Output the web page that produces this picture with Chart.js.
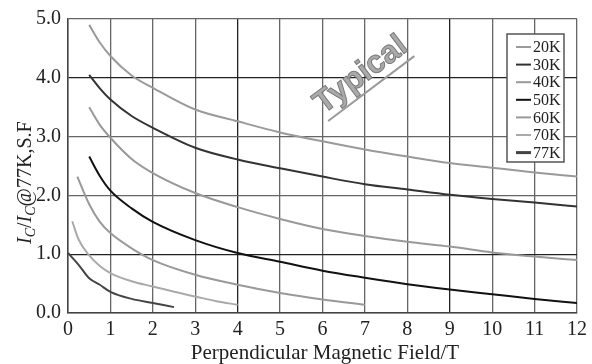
<!DOCTYPE html>
<html>
<head>
<meta charset="utf-8">
<script src="https://cdn.jsdelivr.net/npm/chart.js@4.4.0/dist/chart.umd.min.js"></script>
<style>
  body { margin: 0; background: #fff; }
</style>
</head>
<body>
<canvas id="icChart" width="592" height="364"></canvas>
<script>
// values read off the typical Ic(B) curves, field in T
const fieldLong = [0.5, 0.75, 1, 1.5, 2, 3, 4, 5, 6, 7, 8, 9, 10, 11, 12];
const ic20K = [4.9, 4.6, 4.37, 4.04, 3.83, 3.46, 3.26, 3.07, 2.92, 2.78, 2.66, 2.55, 2.47, 2.39, 2.32];
const ic30K = [4.05, 3.82, 3.63, 3.35, 3.15, 2.81, 2.61, 2.46, 2.32, 2.19, 2.1, 2.01, 1.94, 1.88, 1.81];
const ic40K = [3.5, 3.2, 2.98, 2.62, 2.38, 2.04, 1.8, 1.6, 1.43, 1.31, 1.21, 1.13, 1.03, 0.96, 0.9];
const ic50K = [2.66, 2.33, 2.08, 1.78, 1.55, 1.24, 1.02, 0.87, 0.72, 0.6, 0.49, 0.4, 0.32, 0.24, 0.17];
const field60K = [0.22, 0.5, 0.75, 1, 1.5, 2, 3, 4, 5, 6, 7];
const ic60K = [2.32, 1.85, 1.55, 1.36, 1.1, 0.9, 0.65, 0.48, 0.34, 0.23, 0.14];
const field70K = [0.1, 0.25, 0.5, 0.75, 1, 1.5, 2, 2.5, 3, 3.5, 4];
const ic70K = [1.56, 1.25, 0.98, 0.8, 0.68, 0.54, 0.45, 0.36, 0.28, 0.2, 0.14];
const field77K = [0, 0.25, 0.5, 0.75, 1, 1.5, 2, 2.5];
const ic77K = [1.02, 0.82, 0.59, 0.48, 0.36, 0.24, 0.17, 0.1];

const seriesLabels = ["20K", "30K", "40K", "50K", "60K", "70K", "77K"];
const xTicks = [0, 1, 2, 3, 4, 5, 6, 7, 8, 9, 10, 11, 12];
const yTicks = [0, 1, 2, 3, 4, 5];

const serif = "'Liberation Serif', 'Times New Roman', serif";

function pairs(xs, ys) {
    return xs.map((x, i) => ({ x: x, y: ys[i] }));
}

function line(label, xs, ys, color, width) {
    return {
        label: label,
        data: pairs(xs, ys),
        borderColor: color,
        borderWidth: width,
        pointRadius: 0,
        fill: false,
        cubicInterpolationMode: "monotone"
    };
}

const legendBox = {
    id: "legendBox",
    afterDraw(chart) {
        let ctx = chart.ctx;
        ctx.save();
        ctx.fillStyle = "#fff";
        ctx.fillRect(507, 34, 57, 128);
        ctx.strokeStyle = "#555";
        ctx.lineWidth = 1.5;
        ctx.strokeRect(507, 34, 57, 128);
        ctx.font = "16px " + serif;
        ctx.textBaseline = "middle";
        chart.data.datasets.forEach((ds, i) => {
            let y = 47 + i * 17.6;
            ctx.strokeStyle = ds.borderColor;
            ctx.lineWidth = i == 6 ? 3 : 2;
            ctx.beginPath();
            ctx.moveTo(516, y);
            ctx.lineTo(531, y);
            ctx.stroke();
            ctx.fillStyle = "#222";
            ctx.fillText(ds.label, 533, y + 1);
        });
        ctx.restore();
    }
};

const titles = {
    id: "titles",
    afterDraw(chart) {
        let ctx = chart.ctx;
        ctx.save();
        ctx.fillStyle = "#222";
        ctx.textBaseline = "alphabetic";

        // x title
        ctx.font = "21px " + serif;
        ctx.textAlign = "center";
        ctx.fillText("Perpendicular Magnetic Field/T", 325, 359);

        // y title with subscripts
        ctx.translate(31, 244);
        ctx.rotate(-Math.PI / 2);
        ctx.textAlign = "left";
        let parts = [
            ["italic 20px " + serif, "I", 0],
            ["italic 14px " + serif, "C", 4],
            ["20px " + serif, "/", 0],
            ["italic 20px " + serif, "I", 0],
            ["italic 14px " + serif, "C", 4],
            ["20px " + serif, "@77K,S.F", 0]
        ];
        let x = 0;
        parts.forEach(p => {
            ctx.font = p[0];
            ctx.fillText(p[1], x, p[2]);
            x += ctx.measureText(p[1]).width;
        });
        ctx.restore();

        // watermark
        ctx.save();
        ctx.translate(361, 75);
        ctx.rotate(-37 * Math.PI / 180);
        ctx.font = "bold 32px 'Liberation Sans', Arial, sans-serif";
        ctx.textAlign = "center";
        ctx.textBaseline = "middle";
        ctx.fillStyle = "#aaa";
        ctx.strokeStyle = "#7a7a7a";
        ctx.lineWidth = 1;
        ctx.fillText("Typical", 0, 0);
        ctx.strokeText("Typical", 0, 0);
        let w = ctx.measureText("Typical").width;
        ctx.strokeStyle = "#999";
        ctx.lineWidth = 2;
        ctx.beginPath();
        ctx.moveTo(-w / 2, 17);
        ctx.lineTo(w / 2, 17);
        ctx.stroke();
        ctx.restore();
    }
};

new Chart(document.getElementById("icChart"), {
    type: "line",
    data: {
        datasets: [
            line(seriesLabels[0], fieldLong, ic20K, "#9a9a9a", 2),
            line(seriesLabels[1], fieldLong, ic30K, "#333", 2),
            line(seriesLabels[2], fieldLong, ic40K, "#999", 2),
            line(seriesLabels[3], fieldLong, ic50K, "#111", 2),
            line(seriesLabels[4], field60K, ic60K, "#999", 2),
            line(seriesLabels[5], field70K, ic70K, "#aaa", 2),
            line(seriesLabels[6], field77K, ic77K, "#444", 2)
        ]
    },
    options: {
        responsive: false,
        animation: false,
        layout: { padding: { top: 19, right: 9, left: 0, bottom: 0 } },
        plugins: {
            legend: { display: false },
            tooltip: { enabled: false }
        },
        scales: {
            x: {
                type: "linear",
                min: 0,
                max: 12,
                afterBuildTicks: s => { s.ticks = xTicks.map(v => ({ value: v })); },
                afterFit: s => { s.height = 51; },
                grid: {
                    color: c => [4, 9].includes(c.tick.value) ? "#222" : "#666",
                    lineWidth: 1.3,
                    drawTicks: false
                },
                border: { color: "#444", width: 1.5 },
                ticks: {
                    color: "#222",
                    padding: 5,
                    maxRotation: 0,
                    font: { family: serif, size: 20 }
                }
            },
            y: {
                min: 0,
                max: 5,
                afterBuildTicks: s => { s.ticks = yTicks.map(v => ({ value: v })); },
                afterFit: s => { s.width = 68; },
                grid: {
                    color: c => [1, 4].includes(c.tick.value) ? "#222" : "#666",
                    lineWidth: 1.3,
                    drawTicks: false
                },
                border: { color: "#444", width: 1.5 },
                ticks: {
                    color: "#222",
                    padding: 7,
                    font: { family: serif, size: 20 },
                    callback: v => v.toFixed(1)
                }
            }
        }
    },
    plugins: [legendBox, titles]
});
</script>
</body>
</html>
